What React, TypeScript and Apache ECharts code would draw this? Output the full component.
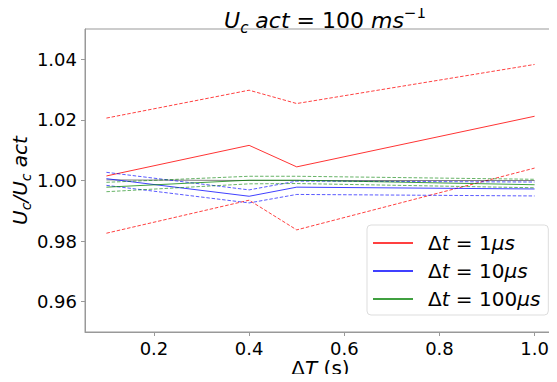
import React, { useEffect, useRef } from "react";
import * as echarts from "echarts";

const deltaT = [0.1, 0.4, 0.5, 1.0];
const red1Mean = [1.0015, 1.0116, 1.0045, 1.0212];
const red1Upper = [1.0206, 1.0298, 1.0254, 1.0383];
const red1Lower = [0.9826, 0.9935, 0.9837, 1.0041];
const blue10Mean = [1.0006, 0.9948, 0.9978, 0.9972];
const blue10Upper = [1.0027, 0.9969, 0.9998, 0.9995];
const blue10Lower = [0.9984, 0.9926, 0.9954, 0.9949];
const green100Mean = [0.9978, 1.0001, 1.0001, 0.9986];
const green100Upper = [0.9994, 1.0014, 1.0014, 1.0004];
const green100Lower = [0.9963, 0.9989, 0.999, 0.9976];
const blackRef = [1.0002, 1.0, 1.0, 1.0];
const xTicks = [0.2, 0.4, 0.6, 0.8, 1.0];
const yTicks = [0.96, 0.98, 1.0, 1.02, 1.04];
const legendNames = ["Δt = 1μs", "Δt = 10μs", "Δt = 100μs"];
const legendRich: Record<string, string> = {
  "Δt = 1μs": "{n|Δ}{i|t}{n| = 1}{i|μs}",
  "Δt = 10μs": "{n|Δ}{i|t}{n| = 10}{i|μs}",
  "Δt = 100μs": "{n|Δ}{i|t}{n| = 100}{i|μs}",
};

const FONT = "DejaVu Sans";

function pts(ys: number[]) {
  return deltaT.map((x, i) => [x, ys[i]]);
}

function line(name: string, ys: number[], color: string, dashed: boolean, opacity: number) {
  return {
    name,
    type: "line",
    data: pts(ys),
    symbol: "none",
    showSymbol: false,
    lineStyle: { color, width: 1, type: dashed ? [3.5, 1.8] : "solid", opacity },
    itemStyle: { color },
    z: 2,
  };
}

export default function App() {
  const ref = useRef<HTMLDivElement>(null);
  useEffect(() => {
    if (!ref.current) return;
    const chart = echarts.init(ref.current, undefined, { renderer: "svg" });
    const axisGray = "#999999";
    chart.setOption({
      animation: false,
      backgroundColor: "#ffffff",
      textStyle: { fontFamily: FONT },
      title: {
        text: "{i|U}{sub|c}{i| act}{n| = 100 }{i|ms}{sup|−1}",
        left: 320,
        textAlign: "center",
        top: 0,
        textStyle: {
          fontWeight: "normal",
          rich: {
            i: { fontFamily: FONT, fontStyle: "italic", fontWeight: "normal", fontSize: 22, color: "#000", lineHeight: 30, verticalAlign: "middle" },
            n: { fontFamily: FONT, fontWeight: "normal", fontSize: 22, color: "#000", lineHeight: 30, verticalAlign: "middle" },
            sub: { fontFamily: FONT, fontStyle: "italic", fontWeight: "normal", fontSize: 15, color: "#000", lineHeight: 15, verticalAlign: "bottom" },
            sup: { fontFamily: FONT, fontWeight: "normal", fontSize: 15, color: "#000", lineHeight: 15, verticalAlign: "top" },
          },
        },
      },
      legend: {
        data: legendNames,
        orient: "vertical",
        left: 367,
        top: 225,
        padding: [8, 8, 6, 6],
        itemGap: 8,
        itemWidth: 40,
        itemHeight: 1.5,
        icon: "rect",
        borderColor: "#dddddd",
        borderWidth: 1,
        borderRadius: 4,
        backgroundColor: "rgba(255,255,255,0.8)",
        formatter: (name: string) => legendRich[name] || name,
        textStyle: {
          padding: [0, 0, 0, 10],
          rich: {
            i: { fontFamily: FONT, fontStyle: "italic", fontSize: 20, color: "#000", lineHeight: 22 },
            n: { fontFamily: FONT, fontSize: 20, color: "#000", lineHeight: 22 },
          },
        },
      },
      grid: {
        left: 85,
        right: 1,
        top: 29,
        bottom: 50,
        show: true,
        borderColor: axisGray,
        borderWidth: 1,
        backgroundColor: "transparent",
        containLabel: false,
        outerBoundsMode: "none",
      },
      xAxis: {
        type: "value",
        min: 0.055,
        max: 1.045,
        name: "{n|Δ}{i|T}{n| (s)}",
        nameLocation: "middle",
        nameGap: 25,
        nameMoveOverlap: false,
        nameTextStyle: {
          verticalAlign: "top",
          lineHeight: 22,
          rich: {
            i: { fontFamily: FONT, fontStyle: "italic", fontSize: 20, color: "#000", lineHeight: 22 },
            n: { fontFamily: FONT, fontSize: 20, color: "#000", lineHeight: 22 },
          },
        },
        splitLine: { show: false },
        axisLine: { show: true, lineStyle: { color: axisGray } },
        axisTick: { show: true, length: 4, inside: false, customValues: xTicks, lineStyle: { color: axisGray } },
        axisLabel: {
          customValues: xTicks,
          formatter: (v: number) => v.toFixed(1),
          fontFamily: FONT,
          fontSize: 18,
          color: "#000",
          margin: 7,
        },
      },
      yAxis: {
        type: "value",
        min: 0.95,
        max: 1.05,
        name: "{i|U}{sub|c}{i|/U}{sub|c}{i| act}",
        nameLocation: "middle",
        nameRotate: 90,
        nameGap: 52,
        nameMoveOverlap: false,
        nameTextStyle: {
          rich: {
            i: { fontFamily: FONT, fontStyle: "italic", fontSize: 20, color: "#000", lineHeight: 26, verticalAlign: "middle" },
            sub: { fontFamily: FONT, fontStyle: "italic", fontSize: 14, color: "#000", lineHeight: 14, verticalAlign: "bottom" },
          },
        },
        splitLine: { show: false },
        axisLine: { show: true, lineStyle: { color: axisGray } },
        axisTick: { show: true, length: 4, inside: false, customValues: yTicks, lineStyle: { color: axisGray } },
        axisLabel: {
          customValues: yTicks,
          formatter: (v: number) => v.toFixed(2),
          fontFamily: FONT,
          fontSize: 18,
          color: "#000",
          margin: 8,
        },
      },
      series: [
        line("Δt = 1μs", red1Mean, "#ff0000", false, 0.8),
        line("red upper", red1Upper, "#ff0000", true, 0.75),
        line("red lower", red1Lower, "#ff0000", true, 0.75),
        line("black", blackRef, "#000000", false, 0.5),
        line("Δt = 10μs", blue10Mean, "#0000ff", false, 0.75),
        line("blue upper", blue10Upper, "#0000ff", true, 0.65),
        line("blue lower", blue10Lower, "#0000ff", true, 0.65),
        line("Δt = 100μs", green100Mean, "#008000", false, 0.75),
        line("green upper", green100Upper, "#008000", true, 0.6),
        line("green lower", green100Lower, "#008000", true, 0.6),
      ],
    });
    return () => chart.dispose();
  }, []);
  return <div ref={ref} style={{ width: 557, height: 382, margin: -8 }} />;
}
